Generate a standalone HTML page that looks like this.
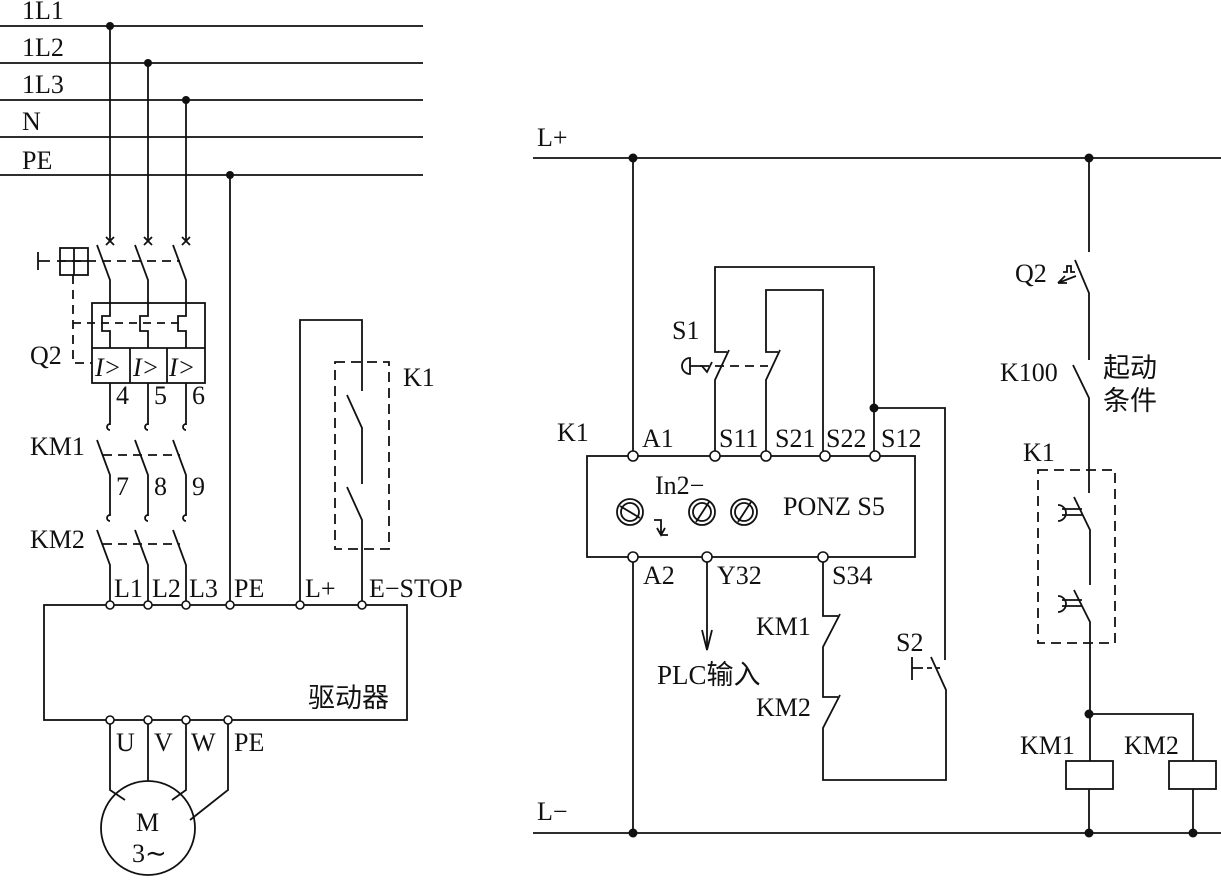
<!DOCTYPE html>
<html><head><meta charset="utf-8"><style>
html,body{margin:0;padding:0;background:#fff;}
svg{display:block;}
text{font-family:"Liberation Serif","Noto Serif CJK SC","Noto Sans CJK SC",serif;font-size:26px;fill:#111;}
.c{font-family:"Liberation Serif","Noto Sans CJK SC",sans-serif;font-size:27px;}
</style></head><body>
<svg width="1221" height="883" viewBox="0 0 1221 883" xmlns="http://www.w3.org/2000/svg">
<g stroke="#111" stroke-width="1.8" fill="none">
<line x1="0" y1="26" x2="423" y2="26"/><line x1="0" y1="63" x2="423" y2="63"/>
<line x1="0" y1="100" x2="423" y2="100"/><line x1="0" y1="137" x2="423" y2="137"/>
<line x1="0" y1="175" x2="423" y2="175"/>
<line x1="110" y1="26" x2="110" y2="241"/><line x1="148" y1="63" x2="148" y2="241"/><line x1="186" y1="100" x2="186" y2="241"/>
<line x1="230" y1="175" x2="230" y2="601"/>
<path d="M106,237 l8,8 M114,237 l-8,8 M144,237 l8,8 M152,237 l-8,8 M182,237 l8,8 M190,237 l-8,8"/>
<path d="M97,245 L110,280 V303 M135,245 L148,280 V303 M173,245 L186,280 V303"/>
<path d="M57,261 H180" stroke-dasharray="9,6"/>
<path d="M38,252 V270 M38,261 H50"/>
<rect x="60" y="248" width="28" height="27"/><path d="M74,248 V275 M60,261 H88"/>
<path d="M73,275 V363 H92" stroke-dasharray="9,6"/>
<rect x="92" y="303" width="113" height="80"/><line x1="92" y1="348" x2="205" y2="348"/>
<line x1="130" y1="348" x2="130" y2="383"/><line x1="167" y1="348" x2="167" y2="383"/>
<path d="M110,303 V316 H102 V331 H110 V348 M148,303 V316 H140 V331 H148 V348 M186,303 V316 H178 V331 H186 V348"/>
<path d="M73,323 H180" stroke-dasharray="8,6"/>
<path d="M110,383 V425 M148,383 V425 M186,383 V425"/>
<path d="M110,424 a3,3 0 1 0 0,6 M148,424 a3,3 0 1 0 0,6 M186,424 a3,3 0 1 0 0,6"/>
<path d="M97,440 L110,475 V516 M135,440 L148,475 V516 M173,440 L186,475 V516"/>
<path d="M103,455 H180" stroke-dasharray="9,6"/>
<path d="M110,515 a3,3 0 1 0 0,6 M148,515 a3,3 0 1 0 0,6 M186,515 a3,3 0 1 0 0,6"/>
<path d="M97,530 L110,565 V601 M135,530 L148,565 V601 M173,530 L186,565 V601"/>
<path d="M103,544 H180" stroke-dasharray="9,6"/>
<rect x="44" y="605" width="363" height="115"/>
<path d="M300,601 V320 H362 V391 M347,395 L362,428 V484 M347,487 L362,520 V601"/>
<rect x="335" y="362" width="54" height="187" stroke-dasharray="10,6"/>
<path d="M110,724 V790 L125,800 M148,724 V781 M186,724 V790 L172,800 M228,724 V790 L190,820"/>
<circle cx="148" cy="828" r="47"/>
<line x1="533" y1="158" x2="1221" y2="158"/><line x1="533" y1="833" x2="1221" y2="833"/>
<line x1="633" y1="158" x2="633" y2="452"/><line x1="633" y1="561" x2="633" y2="833"/>
<rect x="587" y="456" width="328" height="101"/>
<path d="M707,561 V650"/><path d="M702,630 L707,650 L712,630"/>
<path d="M823,561 V616 H838 M840,614 L823,647 V697 H838 M840,695 L823,728 V780 H946 V690 L931,657 M945,660 V408 H874"/>
<path d="M912,657 V680 M912,668 H918"/>
<path d="M918,668 H940" stroke-dasharray="5,4"/>
<path d="M874,452 V267 H715 V352 H727 M729,350 L715,380 V452"/>
<path d="M823,452 V290 H766 V352 H778 M780,350 L766,380 V452"/>
<path d="M700,366 H768" stroke-dasharray="9,6"/>
<path d="M690,358 a8,8 0 0 0 0,16 Z M690,366 H702 L707,372 L712,362"/>
<circle cx="630" cy="512" r="13"/><circle cx="630" cy="512" r="9"/><path d="M620,506 L640,518"/>
<circle cx="702" cy="512" r="13"/><circle cx="702" cy="512" r="9"/><path d="M696,522 L709,502"/>
<circle cx="744" cy="512" r="13"/><circle cx="744" cy="512" r="9"/><path d="M738,522 L751,502"/>
<path d="M654,520 H661 V535 M657,528 L661,535 L665,528 M661,535 H668"/>
<path d="M1089,158 V252 M1075,260 L1089,293 V360 M1073,365 L1089,398 V493 M1074,497 L1090,530 V585 M1074,590 L1090,622 V761 M1089,789 V833"/>
<path d="M1063,272 h4 v-6 h4 v6 h4"/><path d="M1058,283 L1076,276 M1058,283 l7,-7 M1058,283 l9,0"/>
<rect x="1038" y="470" width="77" height="173" stroke-dasharray="10,6"/>
<path d="M1058,505 a8,8 0 0 1 0,16 M1062,509 H1082 M1062,515 H1082"/>
<path d="M1058,596 a8,8 0 0 1 0,16 M1062,600 H1082 M1062,606 H1082"/>
<path d="M1089,714 H1193 V761 M1193,789 V833"/>
<rect x="1066" y="761" width="47" height="28"/><rect x="1169" y="761" width="47" height="28"/>
</g>
<g fill="#fff" stroke="#111" stroke-width="1.6">
<circle cx="110" cy="605" r="4"/><circle cx="148" cy="605" r="4"/><circle cx="186" cy="605" r="4"/><circle cx="230" cy="605" r="4"/>
<circle cx="300" cy="605" r="4"/><circle cx="362" cy="605" r="4"/>
<circle cx="110" cy="720" r="4"/><circle cx="148" cy="720" r="4"/><circle cx="186" cy="720" r="4"/><circle cx="228" cy="720" r="4"/>
<circle cx="633" cy="456" r="5"/><circle cx="715" cy="456" r="5"/><circle cx="766" cy="456" r="5"/><circle cx="825" cy="456" r="5"/><circle cx="875" cy="456" r="5"/>
<circle cx="633" cy="557" r="5"/><circle cx="707" cy="557" r="5"/><circle cx="823" cy="557" r="5"/>
</g>
<g fill="#111">
<circle cx="110" cy="26" r="4"/><circle cx="148" cy="63" r="4"/><circle cx="186" cy="100" r="4"/><circle cx="230" cy="175" r="4"/>
<circle cx="633" cy="158" r="4.5"/><circle cx="1089" cy="158" r="4.5"/><circle cx="633" cy="833" r="4.5"/><circle cx="1089" cy="833" r="4.5"/><circle cx="1193" cy="833" r="4.5"/>
<circle cx="874" cy="408" r="4.5"/><circle cx="1089" cy="714" r="4.5"/>
</g>
<text x="22" y="19">1L1</text><text x="22" y="56">1L2</text><text x="22" y="93">1L3</text><text x="22" y="130">N</text><text x="22" y="169">PE</text>
<text x="30" y="364">Q2</text>
<text x="95" y="376" font-style="italic">I&gt;</text><text x="133" y="376" font-style="italic">I&gt;</text><text x="169" y="376" font-style="italic">I&gt;</text>
<text x="116" y="404">4</text><text x="154" y="404">5</text><text x="192" y="404">6</text>
<text x="30" y="455">KM1</text><text x="116" y="495">7</text><text x="154" y="495">8</text><text x="192" y="495">9</text>
<text x="30" y="548">KM2</text>
<text x="114" y="597">L1</text><text x="152" y="597">L2</text><text x="189" y="597">L3</text><text x="234" y="597">PE</text>
<text x="305" y="597">L+</text><text x="369" y="597">E−STOP</text>
<text x="403" y="386">K1</text>
<text class="c" x="308" y="707">驱动器</text>
<text x="116" y="751">U</text><text x="154" y="751">V</text><text x="191" y="751">W</text><text x="234" y="751">PE</text>
<text x="136" y="831">M</text><text x="132" y="862">3∼</text>
<text x="537" y="146">L+</text><text x="537" y="820">L−</text>
<text x="672" y="339">S1</text>
<text x="557" y="441">K1</text>
<text x="642" y="447">A1</text><text x="719" y="447">S11</text><text x="775" y="447">S21</text><text x="826" y="447">S22</text><text x="881" y="447">S12</text>
<text x="655" y="494">In2−</text><text x="783" y="515">PONZ S5</text>
<text x="643" y="584">A2</text><text x="717" y="584">Y32</text><text x="832" y="584">S34</text>
<text class="c" x="657" y="684">PLC输入</text>
<text x="756" y="635">KM1</text><text x="756" y="716">KM2</text><text x="896" y="651">S2</text>
<text x="1015" y="282">Q2</text><text x="1000" y="381">K100</text>
<text class="c" x="1103" y="377">起动</text><text class="c" x="1103" y="410">条件</text>
<text x="1023" y="461">K1</text>
<text x="1020" y="754">KM1</text><text x="1124" y="754">KM2</text>
</svg>
</body></html>
